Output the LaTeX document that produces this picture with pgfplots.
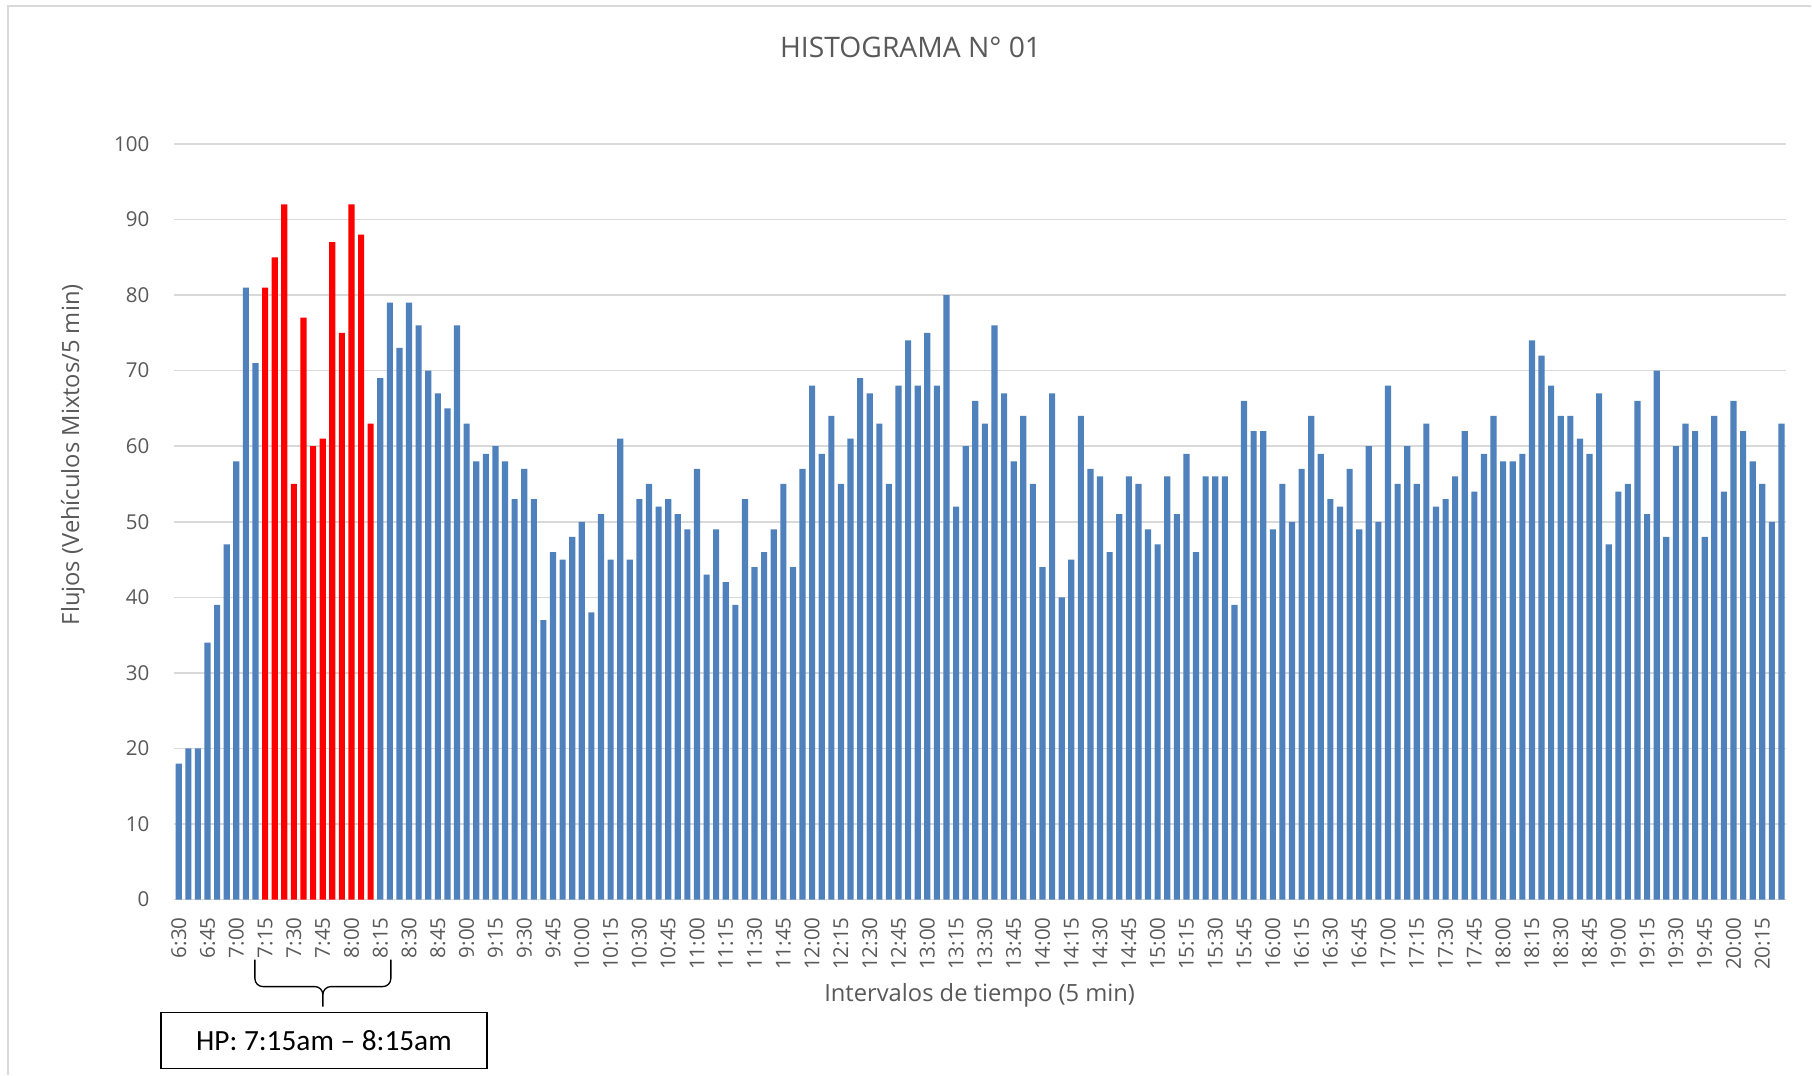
\documentclass[border=0pt]{standalone}
\usepackage{pgfplots}
\pgfplotsset{compat=1.18}
\usepackage{fontspec}
\setmainfont{Open Sans}
\newfontfamily\calibri{Carlito}
\definecolor{barblue}{HTML}{4F81BD}
\definecolor{barred}{HTML}{FF0000}
\definecolor{gridgray}{HTML}{D9D9D9}
\definecolor{txtgray}{HTML}{595959}
\begin{document}
\begin{tikzpicture}
\begin{scope}[x=0.375pt, y=-0.375pt, yshift=403.125pt]
  \path[fill=white] (0,0) rectangle (1812,1075);
  \draw[gridgray, line width=0.55pt] (8,1075) -- (8,6) -- (1812,6);
  \node[font=\fontsize{10.6}{12}\selectfont, text=txtgray] at (911,47) {HISTOGRAMA N° 01};
  \node[font=\fontsize{8.9}{10}\selectfont, text=txtgray, rotate=90] at (73,455) {Flujos (Vehículos Mixtos/5 min)};
  \node[font=\fontsize{8.9}{10}\selectfont, text=txtgray] at (980,996) {Intervalos de tiempo (5 min)};
  \draw[black, line width=0.5pt] (255,960) -- (255,979) to[out=-90,in=180] (263,987) -- (315,987) to[out=0,in=90] (323,995) -- (323,1007);
  \draw[black, line width=0.5pt] (391,960) -- (391,979) to[out=-90,in=0] (383,987) -- (331,987) to[out=180,in=90] (323,995);
  \draw[black, line width=0.55pt] (161,1013) rectangle (487,1069);
  \node[font=\calibri\fontsize{11}{12}\selectfont] at (324,1041) {HP: 7:15am – 8:15am};
\end{scope}
\begin{axis}[
  at={(65.25pt,65.625pt)}, anchor=south west,
  scale only axis, width=604.875pt, height=283.5pt,
  xmin=-0.5, xmax=167.5, ymin=0, ymax=100,
  ytick={0,10,...,100},
  xtick={0,3,...,165},
  xticklabels={6:30,6:45,7:00,7:15,7:30,7:45,8:00,8:15,8:30,8:45,9:00,9:15,9:30,9:45,10:00,10:15,10:30,10:45,11:00,11:15,11:30,11:45,12:00,12:15,12:30,12:45,13:00,13:15,13:30,13:45,14:00,14:15,14:30,14:45,15:00,15:15,15:30,15:45,16:00,16:15,16:30,16:45,17:00,17:15,17:30,17:45,18:00,18:15,18:30,18:45,19:00,19:15,19:30,19:45,20:00,20:15},
  ymajorgrids,
  grid style={color=gridgray, line width=0.55pt},
  axis line style={draw=none},
  major tick length=0pt,
  tick label style={font=\fontsize{7.7}{9}\selectfont, text=txtgray},
  /pgf/number format/assume math mode=true,
  xticklabel style={rotate=90, anchor=east, inner sep=0pt},
  yticklabel style={anchor=east, inner sep=0pt},
  xticklabel shift=6.5pt,
  yticklabel shift=9pt,
  clip=false,
]
\addplot[ybar, bar width=0.64, bar shift=0pt, fill=barblue, draw=none] coordinates {
(0,18) (1,20) (2,20) (3,34) (4,39) (5,47) (6,58) (7,81) (8,71)
(21,69) (22,79) (23,73) (24,79) (25,76) (26,70) (27,67) (28,65) (29,76) (30,63)
(31,58) (32,59) (33,60) (34,58) (35,53) (36,57) (37,53) (38,37) (39,46) (40,45)
(41,48) (42,50) (43,38) (44,51) (45,45) (46,61) (47,45) (48,53) (49,55) (50,52)
(51,53) (52,51) (53,49) (54,57) (55,43) (56,49) (57,42) (58,39) (59,53) (60,44)
(61,46) (62,49) (63,55) (64,44) (65,57) (66,68) (67,59) (68,64) (69,55) (70,61)
(71,69) (72,67) (73,63) (74,55) (75,68) (76,74) (77,68) (78,75) (79,68) (80,80)
(81,52) (82,60) (83,66) (84,63) (85,76) (86,67) (87,58) (88,64) (89,55) (90,44)
(91,67) (92,40) (93,45) (94,64) (95,57) (96,56) (97,46) (98,51) (99,56) (100,55)
(101,49) (102,47) (103,56) (104,51) (105,59) (106,46) (107,56) (108,56) (109,56) (110,39)
(111,66) (112,62) (113,62) (114,49) (115,55) (116,50) (117,57) (118,64) (119,59) (120,53)
(121,52) (122,57) (123,49) (124,60) (125,50) (126,68) (127,55) (128,60) (129,55) (130,63)
(131,52) (132,53) (133,56) (134,62) (135,54) (136,59) (137,64) (138,58) (139,58) (140,59)
(141,74) (142,72) (143,68) (144,64) (145,64) (146,61) (147,59) (148,67) (149,47) (150,54)
(151,55) (152,66) (153,51) (154,70) (155,48) (156,60) (157,63) (158,62) (159,48) (160,64)
(161,54) (162,66) (163,62) (164,58) (165,55) (166,50) (167,63)
};
\addplot[ybar, bar width=0.64, bar shift=0pt, fill=barred, draw=none] coordinates {
(9,81) (10,85) (11,92) (12,55) (13,77) (14,60) (15,61) (16,87) (17,75) (18,92) (19,88) (20,63)
};
\end{axis}
\end{tikzpicture}
\end{document}
